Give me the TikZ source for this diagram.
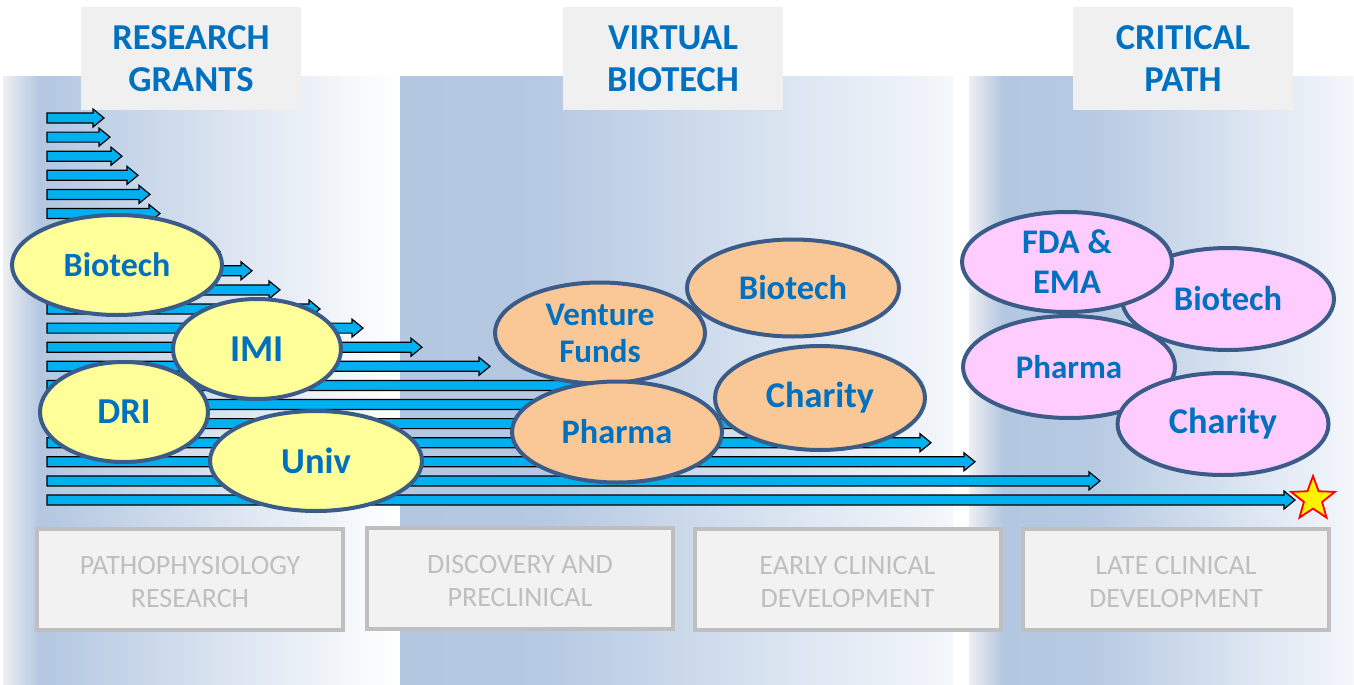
\documentclass[tikz,border=0pt]{standalone}
\usepackage{fontspec}
\setmainfont{Carlito}
\usetikzlibrary{shapes.geometric}
\definecolor{pblue}{HTML}{B3C7E1}
\definecolor{pedge}{HTML}{EEEFF2}
\definecolor{pend}{HTML}{F4F7FB}
\definecolor{hdrfill}{HTML}{F0F0F0}
\definecolor{txtblue}{HTML}{0070C0}
\definecolor{boxgray}{HTML}{BFBFBF}
\definecolor{boxfill}{HTML}{F2F2F2}
\definecolor{arrblue}{HTML}{00B0F0}
\definecolor{ellborder}{HTML}{3B5B88}
\definecolor{yel}{HTML}{FFFF99}
\definecolor{ora}{HTML}{FAC896}
\definecolor{pnk}{HTML}{FFCCFF}
\newcommand{\fsz}[2]{\fontsize{#1}{#2}\selectfont}
\tikzset{
  hdr/.style={fill=hdrfill, minimum width=220pt, minimum height=103pt, inner sep=0pt, align=center,
    text=txtblue, font=\bfseries\fsz{36.5}{42}},
  stagebox/.style={draw=boxgray, line width=4pt, fill=boxfill, minimum width=306pt, minimum height=101pt,
    inner sep=0pt},
  stagetext/.style={inner sep=0pt, align=center, text=boxgray, font=\fsz{28}{33}},
  org/.style={ellipse, draw=ellborder, line width=4pt, inner sep=0pt, align=center, text=txtblue,
    font=\bfseries\fsz{34}{37}},
  yorg/.style={org, fill=yel},
  oorg/.style={org, fill=ora},
  porg/.style={org, fill=pnk},
  arr/.style={fill=arrblue, draw=black, line width=1.2pt, line join=miter},
}
\begin{document}
\begin{tikzpicture}[x=1pt, y=-1pt]
\useasboundingbox (0,0) rectangle (1354,685);
\fill[white] (0,0) rectangle (1354,685);
% panels
\shade[left color=pedge, right color=pblue] (3,76) rectangle (40,685);
\shade[left color=pblue, right color=white] (40,76) rectangle (400,685);
\shade[left color=pblue, right color=pblue!97!white] (400,76) rectangle (540,685);
\shade[left color=pblue!97!white, right color=pend] (540,76) rectangle (953,685);
\shade[left color=pedge, right color=pblue] (969,76) rectangle (1003,685);
\shade[left color=pblue, right color=pblue!95!white] (1003,76) rectangle (1090,685);
\shade[left color=pblue!95!white, right color=pend] (1090,76) rectangle (1354,685);
% headers
\node[hdr] (h1) at (191,58.5) {RESEARCH\\GRANTS};
\node[hdr] (h2) at (673,58.5) {VIRTUAL\\BIOTECH};
\node[hdr] (h3) at (1183,58.5) {CRITICAL\\PATH};
% stage boxes
\node[stagebox] (s1) at (190,579.5) {};
\node[stagebox] (s2) at (520,578.5) {};
\node[stagebox] (s3) at (847.5,579.5) {};
\node[stagebox] (s4) at (1176,579.5) {};
\node[stagetext] (t1) at ([yshift=-3pt]s1.center) {PATHOPHYSIOLOGY\\RESEARCH};
\node[stagetext] (t2) at ([yshift=-2.5pt]s2.center) {DISCOVERY AND\\PRECLINICAL};
\node[stagetext] (t3) at ([yshift=-3pt]s3.center) {EARLY CLINICAL\\DEVELOPMENT};
\node[stagetext] (t4) at ([yshift=-3pt]s4.center) {LATE CLINICAL\\DEVELOPMENT};
% arrows
\foreach \t [count=\i from 0] in {104,110,122,138,150,160,190,220,252,280,320,363,422,490,600,700,800,931,975,1100,1295}{
  \pgfmathsetmacro{\yy}{118+19.1*\i}
  \pgfmathsetmacro{\hb}{\t-11}
  \draw[arr] (47,\yy-5) -- (\hb,\yy-5) -- (\hb,\yy-9) -- (\t,\yy) -- (\hb,\yy+9) -- (\hb,\yy+5) -- (47,\yy+5) -- cycle;
}
\node[star, star points=5, star point ratio=2.4, minimum size=46pt, inner sep=0pt, fill=yellow, draw=red, line width=1.8pt] (goal) at (1313,499) {};
% yellow
\node[yorg, minimum width=210pt, minimum height=100pt] (ybio) at (117,265) {Biotech};
\node[yorg, minimum width=168pt, minimum height=100pt, font=\bfseries\fsz{36.5}{37}] (ydri) at (124,412) {DRI};
\node[yorg, minimum width=168pt, minimum height=100pt, font=\bfseries\fsz{38}{37}] (yimi) at (257,349) {IMI};
\node[yorg, minimum width=212pt, minimum height=100pt, font=\bfseries\fsz{36.5}{37}] (yuni) at (316,461) {Univ};
% orange
\node[oorg, minimum width=212pt, minimum height=97pt, font=\bfseries\fsz{34.5}{37}] (obio) at (793,288) {Biotech};
\node[oorg, minimum width=210pt, minimum height=101pt, font=\bfseries\fsz{33}{37}] (oven) at (600,333) {Venture\\Funds};
\node[oorg, minimum width=210pt, minimum height=101pt, font=\bfseries\fsz{34.3}{37}] (opha) at (617,432) {Pharma};
\node[oorg, minimum width=210pt, minimum height=104pt, font=\bfseries\fsz{36.3}{37}] (ocha) at (820,398) {Charity};
% pink
\node[porg, minimum width=212pt, minimum height=102pt, font=\bfseries\fsz{34.5}{37}] (pbio) at (1228,299) {Biotech};
\node[porg, minimum width=210pt, minimum height=100pt, font=\bfseries\fsz{34.5}{40}] (pfda) at (1067,262) {FDA \&\\EMA};
\node[porg, minimum width=212pt, minimum height=102pt, font=\bfseries\fsz{33}{37}] (ppha) at (1069,367) {Pharma};
\node[porg, minimum width=211pt, minimum height=102pt, font=\bfseries\fsz{36.3}{37}] (pcha) at (1223,424) {Charity};
\end{tikzpicture}
\end{document}
